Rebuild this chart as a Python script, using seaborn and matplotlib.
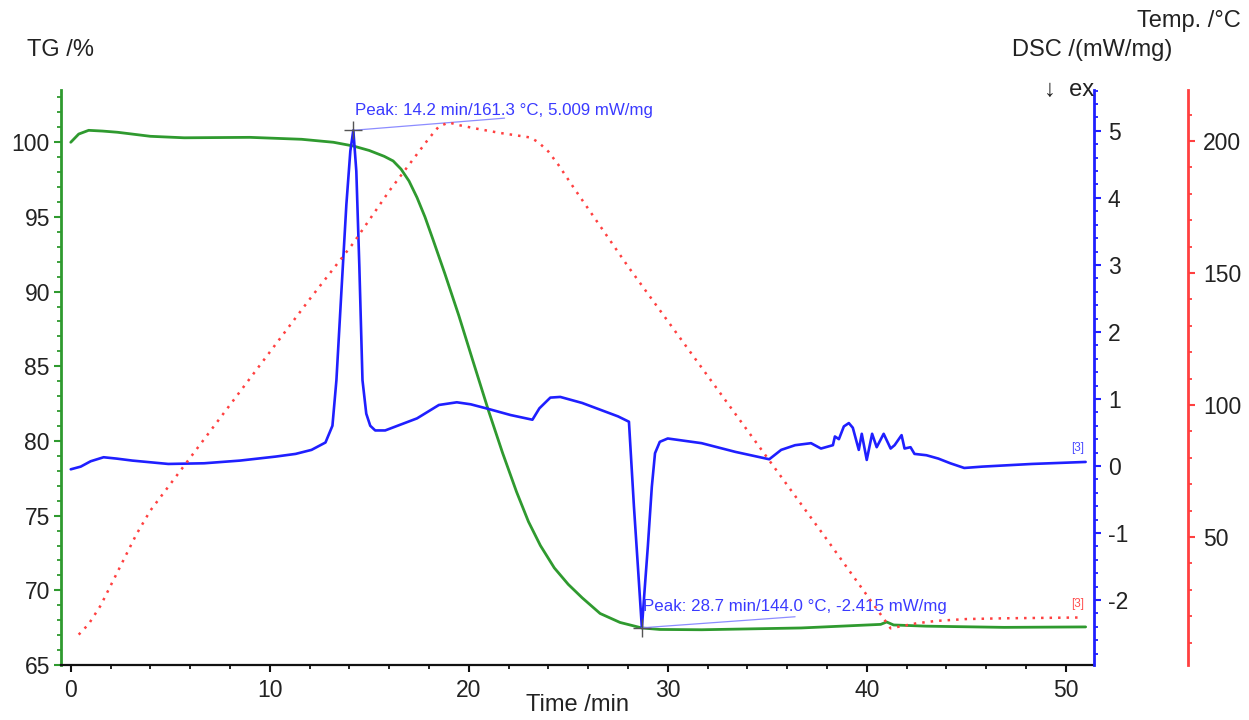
import matplotlib
matplotlib.use("Agg")
import matplotlib.pyplot as plt
from matplotlib.ticker import MultipleLocator
import seaborn as sns

# ---------------- data ----------------
t_tg = [0.0, 0.4, 0.9, 1.6, 2.35, 4.0, 5.7, 9.0, 11.6, 13.2, 14.2, 15.0, 15.75, 16.2, 16.6,
        17.0, 17.4, 17.8, 18.2, 18.8, 19.5, 20.2, 21.0, 21.7, 22.4, 23.0, 23.6, 24.3, 25.0, 25.7,
        26.6, 27.6, 28.7, 29.6, 31.7, 36.7, 40.7, 41.0, 41.35, 43.0, 46.9, 51.0]
tg = [100.0, 100.55, 100.8, 100.75, 100.67, 100.4, 100.3, 100.33, 100.2, 100.0, 99.75, 99.45,
      99.06, 98.75, 98.2, 97.4, 96.3, 95.0, 93.5, 91.2, 88.4, 85.4, 82.0, 79.2, 76.6, 74.6,
      73.0, 71.5, 70.4, 69.5, 68.45, 67.85, 67.48, 67.38, 67.36, 67.48, 67.72, 67.88, 67.68,
      67.6, 67.52, 67.55]

t_dsc = [0.0, 0.5, 1.0, 1.65, 2.3, 3.1, 4.9, 6.7, 8.5, 10.3, 11.3, 12.1, 12.8, 13.15, 13.35,
         13.6, 13.85, 14.05, 14.2, 14.35, 14.5, 14.66, 14.85, 15.05, 15.3, 15.8, 16.6, 17.4,
         18.5, 19.4, 20.1, 21.0, 22.1, 23.2, 23.55, 24.1, 24.6, 25.7, 26.6, 27.5, 28.05, 28.3,
         28.5, 28.7, 28.85, 29.0, 29.2, 29.36, 29.6, 30.0, 31.7, 33.4, 35.1, 35.7, 36.4, 37.2,
         37.7, 38.3, 38.4, 38.6, 38.85, 39.1, 39.3, 39.6, 39.75, 40.0, 40.27, 40.5, 40.85, 41.2,
         41.4, 41.75, 41.9, 42.2, 42.4, 43.0, 43.6, 44.2, 44.9, 45.8, 48.3, 51.0]
dsc = [-0.05, -0.01, 0.07, 0.13, 0.11, 0.08, 0.03, 0.04, 0.08, 0.14, 0.18, 0.24, 0.35, 0.6, 1.28,
       2.6, 3.9, 4.7, 5.009, 4.4, 3.0, 1.28, 0.78, 0.6, 0.53, 0.53, 0.62, 0.71, 0.91, 0.95, 0.92,
       0.85, 0.76, 0.69, 0.86, 1.02, 1.03, 0.94, 0.84, 0.74, 0.66, -0.6, -1.5, -2.415, -1.8, -1.2,
       -0.31, 0.19, 0.36, 0.41, 0.34, 0.21, 0.10, 0.24, 0.31, 0.34, 0.26, 0.31, 0.44, 0.40, 0.59,
       0.64, 0.57, 0.24, 0.48, 0.09, 0.48, 0.28, 0.48, 0.26, 0.31, 0.46, 0.26, 0.28, 0.18, 0.16,
       0.11, 0.04, -0.03, -0.01, 0.03, 0.06]

t_temp = [0.4, 0.9, 1.5, 2.1, 2.7, 3.3, 4.0, 6.0, 8.0, 10.0, 12.0, 14.2, 16.0, 18.0, 18.5, 19.0,
          19.5, 20.5, 21.6, 22.5, 23.1, 23.5, 24.0, 24.5, 25.3, 28.0, 32.2, 35.1, 38.0, 41.2,
          41.8, 42.5, 43.5, 45.0, 47.0, 50.8]
temp = [13, 17, 24, 33, 42, 51, 60, 80, 100, 120, 140, 161.3, 181, 201, 205.5, 207, 206, 204.5,
        203, 202, 201.3, 199.5, 196, 191, 182, 152.5, 109, 79, 49, 15.4, 16.3, 17.3, 18.2, 18.9,
        19.2, 19.5]

peaks_t = [14.2, 28.7]
peaks_dsc = [5.009, -2.415]
peak_labels = ["Peak: 14.2 min/161.3 °C, 5.009 mW/mg",
               "Peak: 28.7 min/144.0 °C, -2.415 mW/mg"]

# ---------------- style ----------------
sns.set_style("ticks")
plt.rcParams['font.family'] = ['Liberation Sans', 'DejaVu Sans']
plt.rcParams['axes.unicode_minus'] = False

GREEN = "#2f9a2f"
BLUE = "#1f1fff"
RED = "#ff4040"
TXT = "#222222"
FS_TICK = 16.5
FS_TITLE = 17

fig = plt.figure(figsize=(12.49, 7.2), dpi=100)
L, R, B, T = 61, 1094, 665, 90
ax = fig.add_axes([L / 1249, 1 - B / 720, (R - L) / 1249, (B - T) / 720])
ax2 = ax.twinx()
ax3 = ax.twinx()

sns.lineplot(x=t_tg, y=tg, ax=ax, color=GREEN, linewidth=2.0)
sns.lineplot(x=t_dsc, y=dsc, ax=ax2, color=BLUE, linewidth=1.9)
sns.lineplot(x=t_temp, y=temp, ax=ax3, color=RED, linewidth=1.8, linestyle=(0, (1, 2.4)))

ax.set_xlim(-0.49, 51.42)
ax.set_ylim(65, 103.5)
ax2.set_ylim(-2.97, 5.61)
ax3.set_ylim(1.5, 219.3)

# spines
for a in (ax, ax2, ax3):
    for s in a.spines.values():
        s.set_visible(False)
ax.spines['left'].set_visible(True)
ax.spines['left'].set_color(GREEN)
ax.spines['left'].set_linewidth(2)
ax.spines['bottom'].set_visible(True)
ax.spines['bottom'].set_color("#111111")
ax.spines['bottom'].set_linewidth(1.6)
ax2.spines['right'].set_visible(True)
ax2.spines['right'].set_color(BLUE)
ax2.spines['right'].set_linewidth(2)
ax3.spines['right'].set_visible(True)
ax3.spines['right'].set_position(('axes', 1.091))
ax3.spines['right'].set_color(RED)
ax3.spines['right'].set_linewidth(2)

# ticks
ax.xaxis.set_major_locator(MultipleLocator(10))
ax.xaxis.set_minor_locator(MultipleLocator(2))
ax.yaxis.set_major_locator(MultipleLocator(5))
ax.yaxis.set_minor_locator(MultipleLocator(1))
ax2.yaxis.set_major_locator(MultipleLocator(1))
ax2.yaxis.set_minor_locator(MultipleLocator(0.2))
ax3.yaxis.set_major_locator(MultipleLocator(50))
ax3.yaxis.set_minor_locator(MultipleLocator(10))

ax.tick_params(axis='x', which='major', length=5, width=1.5, color="#111111",
               labelsize=FS_TICK, labelcolor=TXT, pad=5)
ax.tick_params(axis='x', which='minor', length=3, width=1.3, color="#111111")
ax.tick_params(axis='y', which='major', length=5, width=1.5, color=GREEN,
               labelsize=FS_TICK, labelcolor=TXT, pad=3)
ax.tick_params(axis='y', which='minor', length=3, width=1.3, color=GREEN)
ax2.tick_params(axis='y', which='major', length=5, width=1.5, color=BLUE,
                labelsize=FS_TICK, labelcolor=TXT, pad=5)
ax2.tick_params(axis='y', which='minor', length=3, width=1.3, color=BLUE)
ax3.tick_params(axis='y', which='major', length=5, width=1.5, color=RED,
                labelsize=FS_TICK, labelcolor=TXT, pad=6)
ax3.tick_params(axis='y', which='minor', length=3, width=1.3, color=RED)

ax.set_xlabel("")
ax.set_ylabel("")
ax2.set_ylabel("")
ax3.set_ylabel("")

# axis titles
fig.text((L + R) / 2 / 1249, 1 - 705 / 720, "Time /min", fontsize=FS_TITLE, color=TXT,
         ha='center', va='center')
fig.text(27 / 1249, 1 - 50 / 720, "TG /%", fontsize=FS_TITLE, color=TXT, ha='left', va='center')
fig.text(1012 / 1249, 1 - 50 / 720, "DSC /(mW/mg)", fontsize=FS_TITLE, color=TXT, ha='left', va='center')
fig.text(1137 / 1249, 1 - 21 / 720, "Temp. /°C", fontsize=FS_TITLE, color=TXT, ha='left', va='center')
fig.text(1044 / 1249, 1 - 90 / 720, "↓  ex", fontsize=FS_TITLE, color=TXT, ha='left', va='center')

# peak annotations
text_pos = [(14.29, 5.30), (28.76, -2.10)]
line_end = [(21.8, 5.19), (36.4, -2.25)]
for (pt, pv, lab, tp, le) in zip(peaks_t, peaks_dsc, peak_labels, text_pos, line_end):
    ax2.plot([pt, le[0]], [pv, le[1]], color="#8c8cff", linewidth=0.9)
    ax2.plot([pt], [pv], marker='+', markersize=13, color="#555555", markeredgewidth=1.0)
    ax2.text(tp[0], tp[1], lab, color="#3a3aff", fontsize=12.2, ha='left', va='center')

ax2.text(50.6, 0.27, "[3]", color="#4a4aff", fontsize=8.5, ha='center', va='center')
ax2.text(50.6, -2.06, "[3]", color="#ff5050", fontsize=8.5, ha='center', va='center')

fig.savefig("out.png", dpi=100)
